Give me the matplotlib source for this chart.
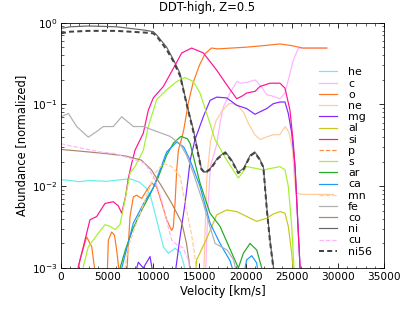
import numpy as np
import matplotlib
matplotlib.use("Agg")
from matplotlib import pyplot as plt
from matplotlib.ticker import AutoMinorLocator

# velocity [km/s] and log10(abundance)
he_v = [0, 1000, 2000, 3000, 5000, 6500, 7500, 8500, 9200, 9700, 10000, 10540, 11090, 11630, 12350, 12900, 13300, 13700]
he_log = [-1.92, -1.93, -1.945, -1.93, -1.94, -1.92, -1.91, -1.95, -2.02, -2.12, -2.25, -2.49, -2.74, -2.82, -2.76, -2.80, -2.95, -3.2]

c_v = [15600, 15900, 16200, 16870, 17230, 17590, 18310, 19040, 19500, 20120, 21020, 21700, 22290, 23000, 23730, 24270, 24810, 25170, 25720, 26500, 28800]
c_log = [-3.3, -2.3, -1.75, -1.49, -1.23, -1.03, -0.86, -0.72, -0.74, -0.73, -0.70, -0.78, -0.88, -0.90, -0.93, -0.86, -0.62, -0.46, -0.31, -0.31, -0.31]

o_v = [1700, 2060, 2780, 3330, 3750, 4950, 5130, 5490, 5800, 6030, 6250, 6400, 7050, 7250, 7480, 7840, 8200, 8740, 9290, 9830, 10370,
       10900, 11450, 11990, 12170, 12360, 12540, 12720, 13000, 13300, 13800, 14300, 15000, 15600, 16300, 17000, 18500, 20000,
       22000, 23700, 25000, 26200, 28800]
o_log = [-3.1, -2.90, -2.62, -2.74, -3.1, -3.3, -2.66, -2.56, -2.60, -2.78, -3.0, -3.3, -3.3, -2.8, -2.37, -2.13, -2.11, -2.15, -2.05, -1.96, -2.01,
         -2.20, -2.41, -2.54, -2.50, -2.20, -1.80, -1.56, -1.45, -1.31, -0.98, -0.74, -0.52, -0.38, -0.31, -0.32, -0.31, -0.30,
         -0.28, -0.26, -0.28, -0.31, -0.31]

ne_v = [15400, 15800, 16200, 16800, 17500, 18200, 18600, 19200, 19800, 20300, 21000, 21600, 22200, 23000, 23700, 24300, 24700, 25100, 25300, 25500, 26000, 29500]
ne_log = [-3.3, -1.90, -1.45, -1.20, -1.07, -0.99, -0.99, -1.02, -1.10, -1.23, -1.37, -1.43, -1.40, -1.37, -1.37, -1.27, -1.34, -1.56, -1.92, -2.08, -2.10, -2.10]

mg_v = [7700, 8380, 8920, 9650, 10300, 12100, 12900, 13440, 13800, 14000, 14520, 15420, 16150, 16870, 17960, 19040, 20120, 21020,
        22290, 23010, 23730, 24270, 24630, 25000, 25360, 25950]
mg_log = [-3.2, -2.93, -3.0, -2.86, -3.3, -3.3, -2.62, -2.21, -1.88, -1.68, -1.43, -1.15, -0.95, -0.91, -0.92, -1.01, -1.05, -1.12,
          -1.05, -0.99, -0.97, -0.97, -1.11, -1.35, -1.76, -3.1]

al_v = [14400, 14700, 15790, 16870, 17960, 19040, 20120, 21210, 22300, 23000, 23740, 24270, 24630, 25000, 25300]
al_log = [-3.3, -2.90, -2.64, -2.35, -2.29, -2.31, -2.37, -2.43, -2.39, -2.34, -2.31, -2.33, -2.49, -2.82, -3.2]

si_v = [1700, 1880, 2420, 3140, 3870, 4770, 5670, 6210, 6580, 7000, 7300, 7660, 8020, 8920, 9460, 10000, 11090, 12170, 13080,
        14160, 15420, 16870, 17960, 19040, 19580, 20120, 21020, 21560, 22650, 23730, 24270, 24810, 25170, 25360, 25950]
si_log = [-3.3, -2.98, -2.74, -2.41, -2.37, -2.21, -2.19, -2.24, -2.33, -2.12, -1.90, -1.72, -1.56, -1.35, -1.07, -0.92, -0.78, -0.56, -0.37,
          -0.31, -0.37, -0.58, -0.76, -0.93, -0.90, -0.86, -0.84, -0.78, -0.74, -0.74, -0.80, -1.07, -1.47, -1.76, -3.1]

s_v = [2200, 2420, 2960, 3870, 4770, 5310, 5850, 6390, 6930, 7480, 8020, 8920, 9460, 10370, 11450, 12540, 13440, 14340, 15060,
       15790, 16690, 17960, 19220, 20120, 21930, 23730, 24270, 24630, 25000, 25300]
s_log = [-3.3, -2.98, -2.74, -2.60, -2.47, -2.49, -2.53, -2.47, -2.17, -1.84, -1.76, -1.56, -1.27, -0.94, -0.82, -0.72, -0.67, -0.72, -0.86,
         -1.11, -1.43, -1.68, -1.90, -1.76, -1.80, -1.76, -1.80, -2.0, -2.49, -3.1]

ar_v = [6200, 6400, 7000, 7800, 8800, 9650, 10500, 11450, 12200, 13000, 13700, 14000, 15060, 16150, 17230, 18670, 19220, 19760, 20480, 21210, 21750, 22000]
ar_log = [-3.3, -3.0, -2.77, -2.52, -2.28, -2.10, -1.90, -1.62, -1.47, -1.39, -1.42, -1.48, -1.96, -2.33, -2.49, -2.86, -3.0, -2.82, -2.70, -2.78, -3.0, -3.3]

ca_v = [6300, 6580, 7840, 9000, 10000, 11450, 12540, 13300, 13980, 15060, 16150, 17230, 18310, 18700, 19600, 20120, 20670, 21210, 21600]
ca_log = [-3.3, -3.0, -2.45, -2.2, -2.02, -1.58, -1.46, -1.52, -1.68, -2.0, -2.45, -2.70, -2.91, -3.05, -3.2, -2.90, -2.85, -2.94, -3.3]

mn_v = [6800, 7290, 8020, 9100, 10190, 11090, 12000, 12900, 13440, 13800, 14160, 14500, 14800]
mn_log = [-3.1, -2.74, -2.50, -2.17, -1.84, -1.72, -1.76, -1.88, -2.2, -2.4, -2.6, -2.85, -3.2]

fe_v = [0, 800, 1700, 2960, 3870, 4590, 5670, 6580, 7840, 8920, 10370, 11810, 12900, 13600, 14340, 15420, 16150, 16700, 18000, 18700, 19300]
fe_log = [-1.15, -1.11, -1.27, -1.40, -1.33, -1.27, -1.27, -1.15, -1.27, -1.27, -1.33, -1.39, -1.48, -1.62, -1.84, -2.21, -2.50, -2.70, -2.78, -2.90, -3.2]

co_v = [0, 2000, 4800, 7000, 8700, 9800, 10900, 12000, 13100, 13600, 14100]
co_log = [-1.55, -1.57, -1.60, -1.63, -1.68, -1.80, -2.00, -2.21, -2.45, -2.70, -3.1]

ni_v = [0, 1000, 3000, 6000, 9000, 10000, 10370, 11450, 12170, 12900, 13620, 14340, 14700, 15200, 15600, 16200, 17000, 17800,
        18500, 19200, 19800, 20500, 21000, 21500, 21930, 22290, 22650, 23010, 23300]
ni_log = [-0.07, -0.05, -0.04, -0.05, -0.09, -0.11, -0.15, -0.30, -0.45, -0.62, -0.99, -1.31, -1.50, -1.78, -1.83, -1.78, -1.65, -1.58,
          -1.68, -1.83, -1.78, -1.62, -1.58, -1.66, -1.76, -2.25, -2.66, -2.98, -3.3]

cu_v = [0, 2000, 4230, 5850, 9100, 10200, 10900, 11600, 12000, 12600, 13200, 13800, 14200]
cu_log = [-1.48, -1.53, -1.58, -1.60, -1.72, -1.92, -2.17, -2.49, -2.66, -2.72, -2.75, -2.9, -3.2]

ni56_v = [0, 1000, 3000, 6000, 9000, 10000, 10400, 11450, 12170, 12900, 13620, 14340, 14700, 15200, 15600, 16200, 17000, 17800,
          18500, 19200, 19800, 20500, 21000, 21500, 21930, 22290, 22650, 23010, 23300]
ni56_log = [-0.13, -0.11, -0.10, -0.10, -0.12, -0.13, -0.17, -0.33, -0.47, -0.65, -1.0, -1.33, -1.52, -1.79, -1.84, -1.79, -1.66, -1.59,
            -1.69, -1.84, -1.79, -1.63, -1.59, -1.67, -1.77, -2.27, -2.68, -3.0, -3.3]

species = [
    ("he", he_v, he_log, "#66eeee", "-"),
    ("c", c_v, c_log, "#ffb3ff", "-"),
    ("o", o_v, o_log, "#ff7722", "-"),
    ("ne", ne_v, ne_log, "#ffcc99", "-"),
    ("mg", mg_v, mg_log, "#7f2aff", "-"),
    ("al", al_v, al_log, "#c8c81a", "-"),
    ("si", si_v, si_log, "#ff1493", "-"),
    ("p", [], [], "#ff8c40", "--"),   # never above 1e-3
    ("s", s_v, s_log, "#a6f030", "-"),
    ("ar", ar_v, ar_log, "#22aa22", "-"),
    ("ca", ca_v, ca_log, "#1a99ff", "-"),
    ("mn", mn_v, mn_log, "#ffcc99", "--"),
    ("fe", fe_v, fe_log, "#b0b0b0", "-"),
    ("co", co_v, co_log, "#aa8866", "-"),
    ("ni", ni_v, ni_log, "#666666", "-"),
    ("cu", cu_v, cu_log, "#ffb3ff", "--"),
]

plt.rcParams["font.size"] = 10.5
fig = plt.figure(figsize=(415 / 72, 312 / 72), dpi=72)
ax = fig.add_axes([61 / 415, 44 / 312, 323 / 415, 245.3 / 312])

for name, v, lg, col, ls in species:
    ax.plot(v, 10 ** np.array(lg, dtype=float), ls=ls, color=col, lw=1.2, label=name)
ax.plot(ni56_v, 10 ** np.array(ni56_log), ls=(0, (2.5, 1.6)), color="#444444", lw=2.0, label="ni56")

ax.set_yscale("log")
ax.set_xlim(0, 35000)
ax.set_ylim(1e-3, 1)
ax.xaxis.set_minor_locator(AutoMinorLocator())
ax.tick_params(which="both", direction="in", top=True, right=True)
ax.tick_params(which="major", length=5)
ax.tick_params(which="minor", length=2.5)
ax.set_xlabel("Velocity [km/s]", fontsize=11.5)
ax.set_ylabel("Abundance [normalized]", fontsize=11.5)
fig.text(0.5, 1 - 7.5 / 312, "DDT-high, Z=0.5", ha="center", va="center", fontsize=11.5)

ax.legend(loc="upper left", bbox_to_anchor=(0.80, 0.818), frameon=False, fontsize=11,
          labelspacing=0.11, handlelength=1.6, handletextpad=1.0, borderpad=0, borderaxespad=0)

fig.savefig("out.png", dpi=72)
